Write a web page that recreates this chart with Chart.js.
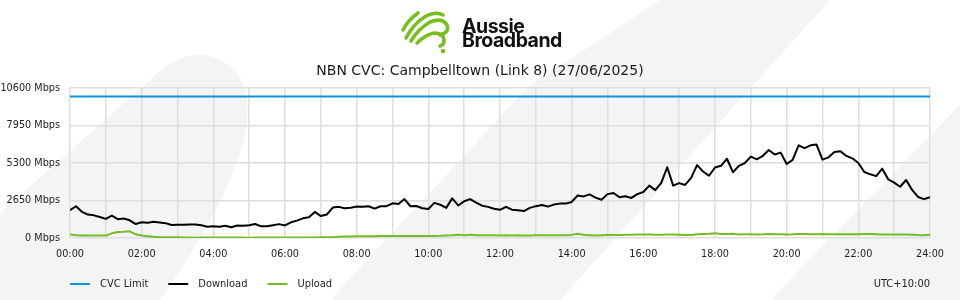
<!DOCTYPE html>
<html>
<head>
<meta charset="utf-8">
<script src="https://cdn.jsdelivr.net/npm/chart.js@4.4.1/dist/chart.umd.min.js"></script>
<style>
  html, body { margin: 0; padding: 0; background: #fff; }
  #wrap { position: relative; width: 960px; height: 300px; overflow: hidden; }
  #bg, #logo, #myChart { position: absolute; left: 0; top: 0; }
  .brand {
    position: absolute; left: 462px; top: 18.5px;
    font: 700 19.5px Inter, sans-serif; line-height: 14.5px;
    letter-spacing: -0.5px; color: #111;
  }
  .title {
    position: absolute; left: 0; top: 62px; width: 960px; text-align: center;
    font: 14px "DejaVu Sans", sans-serif; line-height: 16px; color: #1a1a1a;
  }
</style>
</head>
<body>
<div id="wrap">
  <svg id="bg" width="960" height="300">
    <path d="M0,213 L150,80 Q195,35 235,70 Q275,120 187,260 L160,300 L0,300 Z" fill="#f3f4f6"/>
    <path d="M330,300 L530,85 L600,40 L660,0 L830,0 L560,300 Z" fill="#f3f4f6"/>
    <path d="M770,300 L960,105 L960,300 Z" fill="#f3f4f6"/>
  </svg>
  <canvas id="myChart" width="960" height="300"></canvas>
  <svg id="logo" width="960" height="60">
    <g fill="none" stroke="#78be20" stroke-width="3.6" stroke-linecap="round" stroke-linejoin="round">
      <path d="M403,30 Q408,20 418,13"/>
      <path d="M406,38 Q413,24 426,16 Q436,11 443,15"/>
      <path d="M411,41 Q418,29 430,22 Q442,17 447,25 Q450,32 440,35"/>
      <path d="M417,43 Q425,35 434,33 Q444,33 444,41 Q444,45 440,46"/>
    </g>
    <circle cx="443" cy="51" r="2.3" fill="#78be20"/>
  </svg>
  <div class="brand">Aussie<br>Broadband</div>
  <div class="title" id="title"></div>
</div>
<script>
// 10 minute samples, 00:00 .. 24:00
const sampleMinutes = 10;
const downloadMbps = [
  1960, 2244, 1850, 1655, 1600, 1480,
  1350, 1580, 1330, 1380, 1250, 985,
  1110, 1080, 1150, 1100, 1050, 920,
  940, 930, 960, 950, 900, 800,
  825, 790, 870, 760, 880, 870,
  895, 990, 825, 825, 900, 980,
  890, 1110, 1230, 1390, 1460, 1845,
  1550, 1660, 2150, 2200, 2100, 2140,
  2230, 2200, 2240, 2080, 2240, 2250,
  2450, 2400, 2750, 2244, 2260, 2100,
  2050, 2480, 2350, 2130, 2800, 2300,
  2600, 2750, 2500, 2280, 2200, 2070,
  1990, 2200, 2000, 1960, 1900, 2130,
  2250, 2330, 2220, 2360, 2430, 2430,
  2550, 3000, 2940, 3080, 2850, 2700,
  3100, 3180, 2880, 2950, 2830, 3100,
  3250, 3700, 3380, 3900, 5000, 3700,
  3880, 3750, 4250, 5150, 4700, 4400,
  4980, 5100, 5600, 4650, 5100, 5300,
  5750, 5560, 5800, 6220, 5900, 6035,
  5230, 5520, 6550, 6350, 6550, 6600,
  5540, 5700, 6080, 6130, 5800, 5630,
  5300, 4660, 4500, 4375, 4900, 4150,
  3910, 3620, 4100, 3400, 2900, 2750,
  2880
];
const uploadMbps = [
  250, 190, 180, 180, 180, 180,
  170, 330, 420, 440, 470, 260,
  170, 130, 80, 60, 50, 50,
  45, 40, 40, 20, 40, 30,
  40, 35, 30, 35, 35, 30,
  10, 30, 40, 40, 40, 40,
  40, 40, 40, 40, 40, 40,
  45, 50, 60, 90, 100, 110,
  115, 120, 130, 130, 140, 140,
  140, 150, 150, 150, 140, 140,
  140, 150, 160, 180, 190, 230,
  190, 230, 190, 190, 190, 190,
  180, 190, 170, 190, 170, 180,
  190, 190, 200, 190, 200, 200,
  220, 300, 230, 200, 170, 200,
  210, 220, 220, 230, 230, 240,
  240, 240, 230, 230, 240, 240,
  230, 220, 220, 260, 280, 300,
  330, 290, 280, 300, 250, 260,
  270, 250, 260, 280, 260, 260,
  250, 260, 280, 280, 270, 260,
  280, 270, 270, 270, 260, 260,
  270, 280, 290, 270, 250, 250,
  240, 240, 240, 230, 210, 200,
  230
];
const cvcLimitMbps = 10000;
const yTicks = [0, 2650, 5300, 7950, 10600];
const seriesNames = ['CVC Limit', 'Download', 'Upload'];
const seriesColors = ['#0a96d6', '#000000', '#77bb25'];
const chartTitle = 'NBN CVC: Campbelltown (Link 8) (27/06/2025)';
const timezoneLabel = 'UTC+10:00';

document.getElementById('title').textContent = chartTitle;

const dayMinutes = 24 * 60;
const toPoints = arr => arr.map((v, i) => ({ x: i * sampleMinutes, y: v }));
const cvcPoints = [{ x: 0, y: cvcLimitMbps }, { x: dayMinutes, y: cvcLimitMbps }];

const pad2 = n => String(n).padStart(2, '0');

// legend drawn under the plot, starting at the left edge of the plot area
const bottomLegend = {
  id: 'bottomLegend',
  afterDraw(chart) {
    const ctx = chart.ctx;
    const area = chart.chartArea;
    const y = chart.height - 16;
    ctx.save();
    ctx.font = '11px "DejaVu Sans Condensed", "DejaVu Sans", sans-serif';
    ctx.textBaseline = 'middle';
    ctx.fillStyle = '#222';
    let x = area.left;
    chart.data.datasets.forEach(ds => {
      ctx.strokeStyle = ds.borderColor;
      ctx.lineWidth = 2;
      ctx.beginPath();
      ctx.moveTo(x, y);
      ctx.lineTo(x + 20, y);
      ctx.stroke();
      ctx.fillText(ds.label, x + 30, y);
      x += 30 + ctx.measureText(ds.label).width + 20;
    });
    ctx.textAlign = 'right';
    ctx.fillText(timezoneLabel, area.right, y);
    ctx.restore();
  }
};

const gridColor = '#dedede';
const tickFont = { family: '"DejaVu Sans", sans-serif', size: 9.7 };

function makeDataset(i, data) {
  return {
    label: seriesNames[i],
    data: data,
    borderColor: seriesColors[i],
    backgroundColor: seriesColors[i],
    borderWidth: 2,
    pointRadius: 0,
    tension: 0,
    fill: false,
    borderJoinStyle: 'round'
  };
}

new Chart(document.getElementById('myChart'), {
  type: 'line',
  data: {
    datasets: [
      makeDataset(0, cvcPoints),
      makeDataset(1, toPoints(downloadMbps)),
      makeDataset(2, toPoints(uploadMbps))
    ]
  },
  options: {
    responsive: false,
    animation: false,
    layout: { padding: { top: 88, right: 30, bottom: 32, left: 0 } },
    plugins: {
      legend: { display: false },
      tooltip: { enabled: false },
      title: { display: false }
    },
    scales: {
      x: {
        type: 'linear',
        min: 0,
        max: dayMinutes,
        afterFit: s => { s.height = 30; },
        ticks: {
          stepSize: 60,
          autoSkip: false,
          maxRotation: 0,
          padding: 11,
          color: '#222',
          font: tickFont,
          callback: v => (v % 120 === 0 ? pad2(v / 60) + ':00' : '')
        },
        grid: { color: gridColor, lineWidth: 1.5, drawTicks: false },
        border: { display: false }
      },
      y: {
        min: yTicks[0],
        max: yTicks[yTicks.length - 1],
        afterFit: s => { s.width = 70; },
        afterBuildTicks: s => { s.ticks = yTicks.map(v => ({ value: v })); },
        ticks: {
          padding: 10,
          color: '#222',
          font: tickFont,
          callback: v => v + ' Mbps'
        },
        grid: { color: gridColor, lineWidth: 1.5, drawTicks: false },
        border: { display: false }
      }
    }
  },
  plugins: [bottomLegend]
});
</script>
</body>
</html>
